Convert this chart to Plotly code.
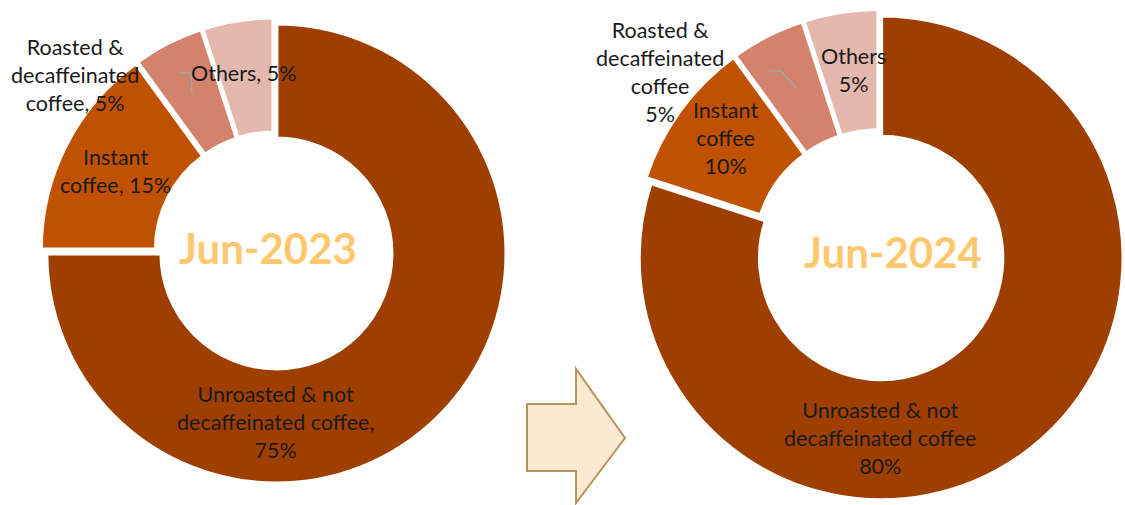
import plotly.graph_objects as go

W, H = 1125, 505

# data
categories = ["Unroasted & not decaffeinated coffee", "Instant coffee",
              "Roasted & decaffeinated coffee", "Others"]
share_2023 = [75, 15, 5, 5]
share_2024 = [80, 10, 5, 5]
periods = ["Jun-2023", "Jun-2024"]

labels_2023 = ["Unroasted & not<br>decaffeinated coffee,<br>75%",
               "Instant<br>coffee, 15%",
               "Roasted &<br>decaffeinated<br>coffee, 5%",
               "Others, 5%"]
labels_2024 = ["Unroasted & not<br>decaffeinated coffee<br>80%",
               "Instant<br>coffee<br>10%",
               "Roasted &<br>decaffeinated<br>coffee<br>5%",
               "Others<br>5%"]

colors = ["#9E3F00", "#C05100", "#D3826B", "#E4B8AC"]
FONT = "Lato, 'Open Sans', sans-serif"

# pixel -> paper
def px_x(x):
    return x / W

def px_y(y):
    return 1 - y / H

fig = go.Figure()

pull = 0.015
fig.add_trace(go.Pie(labels=categories, values=share_2023, sort=False,
                     direction="clockwise", rotation=0, hole=0.5,
                     pull=[pull]*4, textinfo="none", hoverinfo="label+percent",
                     marker=dict(colors=colors, line=dict(color="white", width=4)),
                     domain=dict(x=[px_x(40.5), px_x(507.5)], y=[px_y(484.5), px_y(17.5)]),
                     showlegend=False))
fig.add_trace(go.Pie(labels=categories, values=share_2024, sort=False,
                     direction="clockwise", rotation=0, hole=0.5,
                     pull=[pull]*4, textinfo="none", hoverinfo="label+percent",
                     marker=dict(colors=colors, line=dict(color="white", width=4)),
                     domain=dict(x=[px_x(633), 1], y=[px_y(501), px_y(9)]),
                     showlegend=False))

# label positions in pixels
pos_2023 = [(275, 422), (115, 171), (75, 75), (243, 73)]
pos_2024 = [(880, 438), (725, 138), (660, 72), (853, 70)]

annotations = []
for lab, (x, y) in zip(labels_2023 + labels_2024, pos_2023 + pos_2024):
    annotations.append(dict(x=px_x(x), y=px_y(y), text=lab, showarrow=False,
                            xref="paper", yref="paper",
                            xanchor="center", yanchor="middle",
                            font=dict(size=21.5, color="#1a1a1a", family=FONT)))

# centre titles
for name, (x, y) in zip(periods, [(268, 248), (893, 252)]):
    annotations.append(dict(x=px_x(x), y=px_y(y), text="<b>" + name + "</b>",
                            showarrow=False, xref="paper", yref="paper",
                            xanchor="center", yanchor="middle",
                            font=dict(size=42, color="#FFC76E", family=FONT)))

# leader lines + arrow
def path(points):
    return "M " + " L ".join(f"{px_x(a):.5f},{px_y(b):.5f}" for a, b in points)

shapes = [
    dict(type="path", xref="paper", yref="paper",
         path=path([(179, 73), (191, 73), (192, 93)]),
         line=dict(color="#A6A6A6", width=1.5)),
    dict(type="path", xref="paper", yref="paper",
         path=path([(767, 71), (781, 71), (797, 89)]),
         line=dict(color="#A6A6A6", width=1.5)),
    dict(type="path", xref="paper", yref="paper",
         path=path([(527, 404), (576, 404), (576, 369), (625, 438),
                    (576, 503), (576, 471), (527, 471)]) + " Z",
         fillcolor="#FBE9D1", line=dict(color="#B9935B", width=2)),
]

fig.update_layout(width=W, height=H, margin=dict(l=0, r=0, t=0, b=0),
                  paper_bgcolor="white", plot_bgcolor="white",
                  annotations=annotations, shapes=shapes)

# drop the default page margin so the figure fills the window
fig.write_html("out.html", config={"displayModeBar": False},
               post_script="document.body.style.margin='0';document.body.style.overflow='hidden';")
